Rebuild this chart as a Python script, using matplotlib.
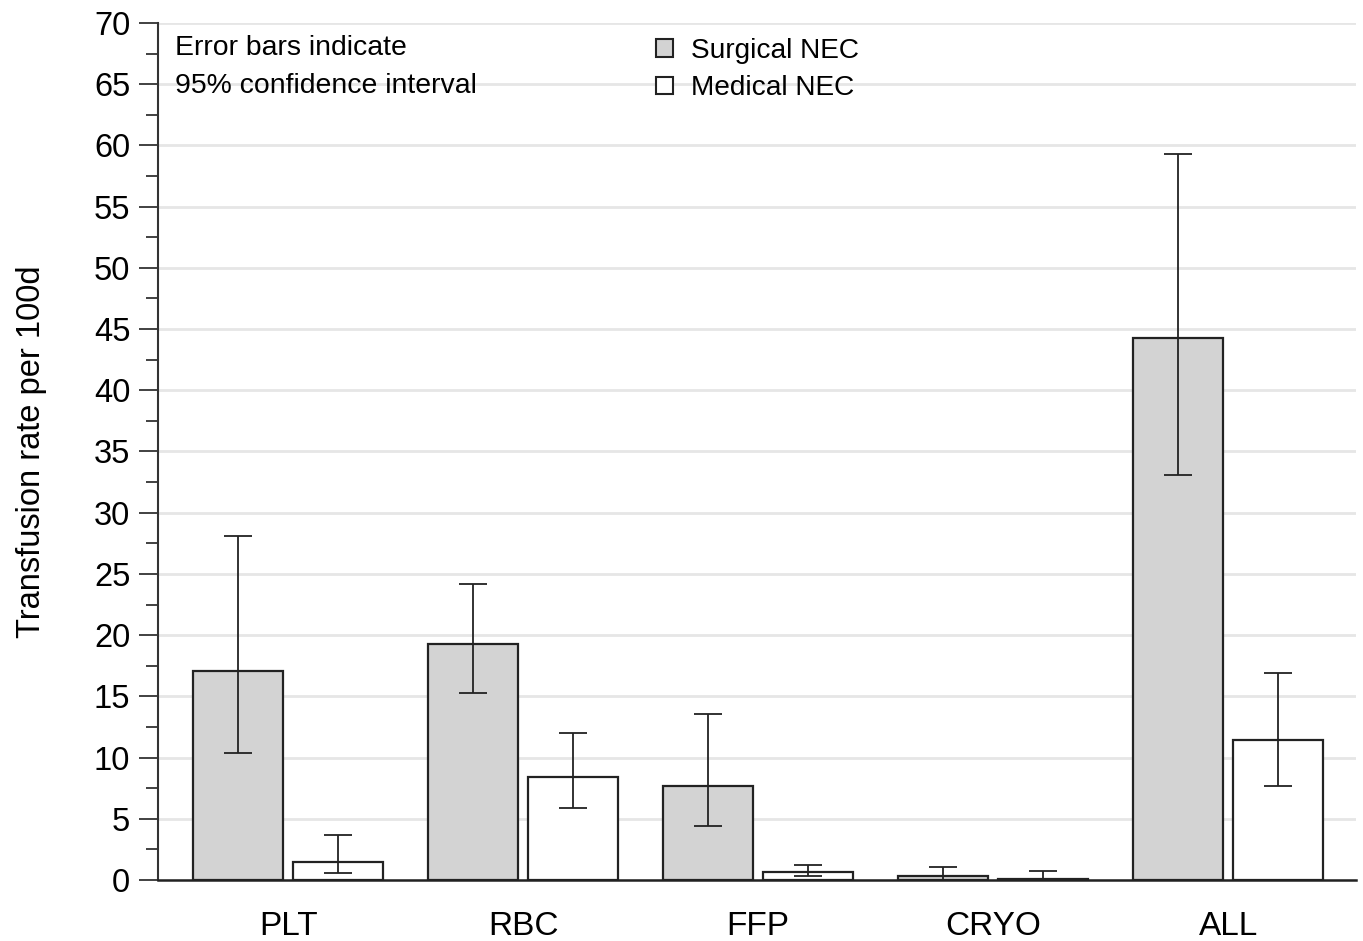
import matplotlib
matplotlib.use("Agg")
import matplotlib.pyplot as plt
import numpy as np
from matplotlib.patches import Patch
from matplotlib.ticker import MultipleLocator

plt.rcParams['font.family'] = ['Liberation Sans', 'DejaVu Sans']

categories = ["PLT", "RBC", "FFP", "CRYO", "ALL"]
surgical = [17.1, 19.3, 7.7, 0.35, 44.3]
surgical_lo = [10.4, 15.3, 4.4, 0.0, 33.1]
surgical_hi = [28.1, 24.2, 13.6, 1.1, 59.3]
medical = [1.5, 8.4, 0.65, 0.1, 11.4]
medical_lo = [0.55, 5.9, 0.3, 0.0, 7.7]
medical_hi = [3.7, 12.0, 1.25, 0.75, 16.9]
yticks = list(range(0, 75, 5))

fig = plt.figure(figsize=(13.63, 9.41), dpi=100)
ax = fig.add_axes([0.116, 0.0648, 0.879, 0.9108])

x = np.arange(len(categories))
w = 0.383
off = 0.213
edge = '#222222'

s = np.array(surgical); m = np.array(medical)
ax.bar(x - off, s, w, color='#d3d3d3', edgecolor=edge, linewidth=1.6, zorder=3)
ax.bar(x + off, m, w, color='white', edgecolor=edge, linewidth=1.6, zorder=3)
ax.errorbar(x - off, s, yerr=[s - np.array(surgical_lo), np.array(surgical_hi) - s],
            fmt='none', ecolor='#222222', elinewidth=1.3, capsize=10, capthick=1.3, zorder=4)
ax.errorbar(x + off, m, yerr=[m - np.array(medical_lo), np.array(medical_hi) - m],
            fmt='none', ecolor='#222222', elinewidth=1.3, capsize=10, capthick=1.3, zorder=4)

ax.set_xlim(-0.553, 4.545)
ax.set_ylim(0, 70)
ax.set_yticks(yticks)
ax.yaxis.set_minor_locator(MultipleLocator(2.5))
ax.set_xticks(x)
ax.set_xticklabels(categories, fontsize=24)
ax.tick_params(axis='y', which='major', length=14, width=1.3, labelsize=23.5, direction='out', pad=6, colors='#333333')
ax.tick_params(axis='y', which='minor', length=8.5, width=1.3, direction='out', colors='#333333')
ax.tick_params(axis='x', length=0, pad=22)
ax.tick_params(axis='both', labelcolor='black')

ax.grid(axis='y', color='#e6e6e6', linewidth=2, zorder=0)
ax.set_axisbelow(True)
for sp in ['top', 'right']:
    ax.spines[sp].set_visible(False)
ax.spines['left'].set_linewidth(1.5)
ax.spines['bottom'].set_linewidth(1.8)
ax.spines['left'].set_color('#333333')
ax.spines['bottom'].set_color('#222222')

ax.set_ylabel("Transfusion rate per 100d", fontsize=23.5)
ax.yaxis.set_label_coords(-0.093, 0.5)

ax.text(0.014, 67.97, "Error bars indicate", transform=ax.get_yaxis_transform(),
        fontsize=20.4, va='center', ha='left')
ax.text(0.014, 64.87, "95% confidence interval", transform=ax.get_yaxis_transform(),
        fontsize=20.4, va='center', ha='left')

handles = [Patch(facecolor='#d3d3d3', edgecolor=edge, linewidth=1.5, label='Surgical NEC'),
           Patch(facecolor='white', edgecolor=edge, linewidth=1.5, label='Medical NEC')]
leg = fig.legend(handles=handles, loc='upper left', bbox_to_anchor=(0.473, 0.972), frameon=False,
                 fontsize=20.2, handlelength=0.6, handleheight=0.6, handletextpad=0.66,
                 labelspacing=0.42, borderaxespad=0)

fig.savefig("out.png", dpi=100)
